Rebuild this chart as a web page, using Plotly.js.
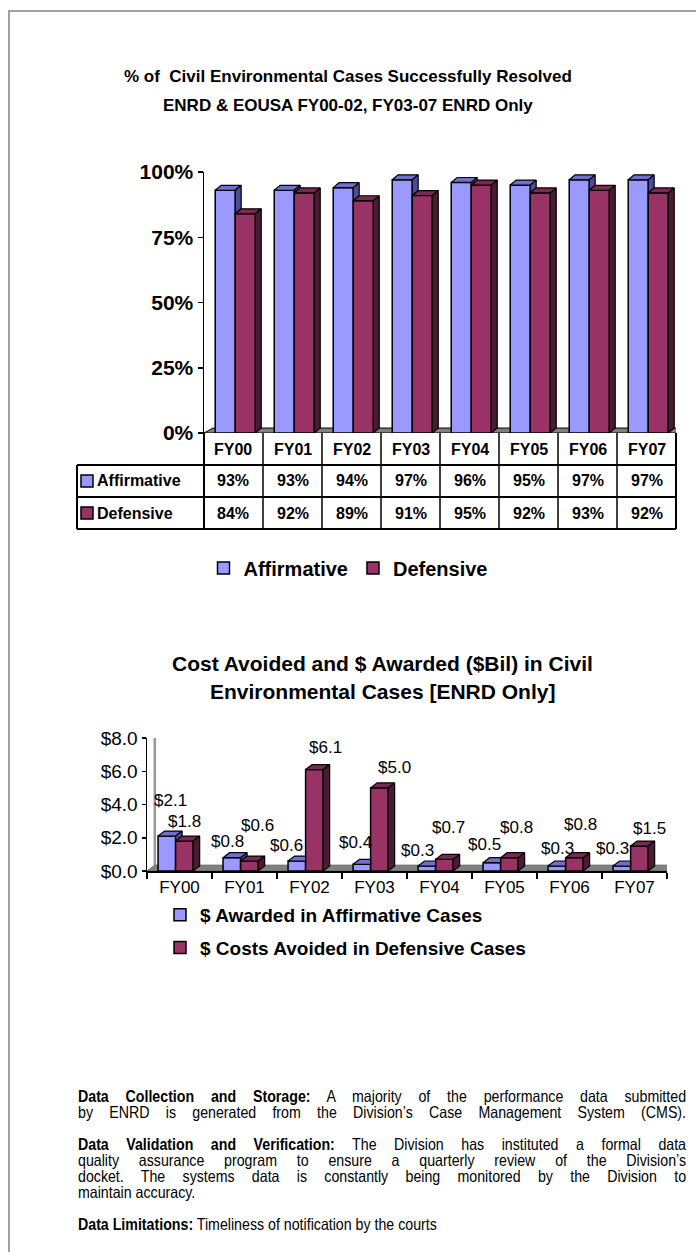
<!DOCTYPE html>
<html><head><meta charset="utf-8">
<script src="https://cdn.plot.ly/plotly-3.0.1.min.js"></script>
<style>
html,body{margin:0;padding:0;background:#fff;}
#page{position:relative;width:696px;height:1252px;overflow:hidden;background:#fff;}
#chart{position:absolute;left:0;top:0;width:696px;height:1252px;}
#frame{position:absolute;left:8px;top:10px;width:700px;height:1260px;border-top:2px solid #a0a0a0;border-left:2px solid #a0a0a0;pointer-events:none;}
.txt{position:absolute;left:78px;width:707px;transform:scaleX(0.86);transform-origin:0 0;font-family:"Liberation Sans",Arial,sans-serif;font-size:16.5px;line-height:16px;color:#000;}
.j{text-align:justify;text-align-last:justify;}
.l{text-align:left;}
</style></head>
<body>
<div id="page">
<div id="chart"></div>
<div id="frame"></div>
<div class="txt" style="top:1088px">
<div class="j"><b>Data Collection and Storage:</b> A majority of the performance data submitted</div>
<div class="j">by ENRD is generated from the Division’s Case Management System (CMS).</div>
<div class="l">&nbsp;</div>
<div class="j"><b>Data Validation and Verification:</b> The Division has instituted a formal data</div>
<div class="j">quality assurance program to ensure a quarterly review of the Division’s</div>
<div class="j">docket. The systems data is constantly being monitored by the Division to</div>
<div class="l">maintain accuracy.</div>
<div class="l">&nbsp;</div>
<div class="l"><b>Data Limitations:</b> Timeliness of notification by the courts</div>
</div>
</div>
<script>
// ---------- data ----------
const categories = ['FY00','FY01','FY02','FY03','FY04','FY05','FY06','FY07'];
const affirmativePct = [93,93,94,97,96,95,97,97];
const defensivePct = [84,92,89,91,95,92,93,92];
const awardedBil = [2.1,0.8,0.6,0.4,0.3,0.5,0.3,0.3];
const avoidedBil = [1.8,0.6,6.1,5.0,0.7,0.8,0.8,1.5];
const pctTicks = [0,25,50,75,100];
const dollarTicks = [0,2,4,6,8];
const seriesNames1 = ['Affirmative','Defensive'];
const seriesNames2 = ['$ Awarded in Affirmative Cases','$ Costs Avoided in Defensive Cases'];

// ---------- helpers ----------
const W = 696, H = 1252;
const px = x => x / W;
const py = y => 1 - y / H;
const FONT = '"Liberation Sans", Arial, sans-serif';
const BLUE = '#9999ff', BLUE_TOP = '#6f6fd0', BLUE_SIDE = '#4c4c99';
const RED = '#993366', RED_TOP = '#7a2952', RED_SIDE = '#4d1a33';
const idx = categories.map((c, i) => i);

function faces(vals, other, off, w, dx, dy, clipToOther) {
  const top = {x: [], y: []}, side = {x: [], y: []};
  vals.forEach((v, i) => {
    const l = i + off, r = l + w;
    const hidden = clipToOther && other[i] >= v;
    const rt = hidden ? r : r + dx;
    top.x.push(l, l + dx, rt, r, l, null);
    top.y.push(v, v + dy, v + dy, v, v, null);
    if (!hidden) {
      const b = clipToOther ? other[i] : 0;
      side.x.push(r, r + dx, r + dx, r, r, null);
      side.y.push(b, b + dy, v + dy, v, b, null);
    }
  });
  return {top, side};
}
function poly(f, color, xa, ya) {
  return {type: 'scatter', mode: 'lines', x: f.x, y: f.y, fill: 'toself', fillcolor: color,
    line: {color: '#000', width: 1.2}, xaxis: xa, yaxis: ya, showlegend: false, hoverinfo: 'skip'};
}

// ---------- geometry (style) ----------
const T = {off1: -0.31, off2: 0.03, w: 0.34, dx: 0.1, dy: 1.9};
const B = {off1: -0.33, off2: -0.06, w: 0.27, dx: 0.1, dy: 0.3};
// data-label nudges in px (Excel-like label placement)
const liftA = [36, 16, 16, 22, 16, 18, 18, 18];
const liftD = [20, 36, 22, 20, 32, 30, 33, 18];
const shiftA = [4, -4, -10, -6, -9, -7, 1, -9];
const shiftD = [0, 8, 11, 15, 4, 7, 6, 10];

const tA = faces(affirmativePct, defensivePct, T.off1, T.w, T.dx, T.dy, true);
const tD = faces(defensivePct, null, T.off2, T.w, T.dx, T.dy, false);
const bA = faces(awardedBil, avoidedBil, B.off1, B.w, B.dx, B.dy, true);
const bD = faces(avoidedBil, null, B.off2, B.w, B.dx, B.dy, false);

const traces = [
  {type: 'bar', name: seriesNames1[0], x: idx, y: affirmativePct, offset: T.off1, width: T.w,
   marker: {color: BLUE, line: {color: '#000', width: 1.5}}, xaxis: 'x', yaxis: 'y', legend: 'legend', hoverinfo: 'y'},
  {type: 'bar', name: seriesNames1[1], x: idx, y: defensivePct, offset: T.off2, width: T.w,
   marker: {color: RED, line: {color: '#000', width: 1.5}}, xaxis: 'x', yaxis: 'y', legend: 'legend', hoverinfo: 'y'},
  poly(tA.top, BLUE_TOP, 'x', 'y'), poly(tA.side, BLUE_SIDE, 'x', 'y'),
  poly(tD.top, RED_TOP, 'x', 'y'), poly(tD.side, RED_SIDE, 'x', 'y'),
  {type: 'bar', name: seriesNames2[0], x: idx, y: awardedBil, offset: B.off1, width: B.w, legendgroup: 'g1',
   marker: {color: BLUE, line: {color: '#000', width: 1.5}}, xaxis: 'x2', yaxis: 'y2', legend: 'legend2', hoverinfo: 'y'},
  {type: 'bar', name: seriesNames2[1], x: idx, y: avoidedBil, offset: B.off2, width: B.w, legendgroup: 'g2',
   marker: {color: RED, line: {color: '#000', width: 1.5}}, xaxis: 'x2', yaxis: 'y2', legend: 'legend2', hoverinfo: 'y'},
  poly(bA.top, BLUE_TOP, 'x2', 'y2'), poly(bA.side, BLUE_SIDE, 'x2', 'y2'),
  poly(bD.top, RED_TOP, 'x2', 'y2'), poly(bD.side, RED_SIDE, 'x2', 'y2')
];

// ---------- shapes ----------
const shapes = [];
shapes.push({type: 'path', xref: 'x', yref: 'y', layer: 'below',
  path: `M -0.5,0 L 7.5,0 L ${7.5 + 0.15},${T.dy} L ${-0.5 + 0.15},${T.dy} Z`,
  fillcolor: '#808080', line: {color: '#000', width: 1}});
const bx = 0.12, by = 0.35;
shapes.push({type: 'path', xref: 'x2', yref: 'y2', layer: 'below',
  path: `M ${-0.5 + bx},${by} L ${-0.5 + bx},${8 + by} L ${7.5 + bx},${8 + by} L ${7.5 + bx},${by}`,
  line: {color: '#999', width: 2.5}});
shapes.push({type: 'path', xref: 'x2', yref: 'y2', layer: 'below',
  path: `M -0.5,0 L 7.5,0 L ${7.5 + bx},${by} L ${-0.5 + bx},${by} Z`,
  fillcolor: '#808080', line: {color: '#666', width: 1}});

// table under the top chart
const tTop = 433, rowH = 32;
const colL = 204, colW = 59, tLeft = 77;
const rowsY = [tTop, tTop + rowH, tTop + 2 * rowH, tTop + 3 * rowH];
const tRight = colL + colW * categories.length;
const line = (x0, y0, x1, y1, w) => ({type: 'line', xref: 'paper', yref: 'paper',
  x0: px(x0), y0: py(y0), x1: px(x1), y1: py(y1), line: {color: '#000', width: w}});
for (let i = 0; i <= categories.length; i++) {
  const x = colL + colW * i;
  shapes.push(line(x, tTop, x, rowsY[3], (i === 0 || i === categories.length) ? 2 : 1.5));
}
shapes.push(line(tLeft, rowsY[1], tRight, rowsY[1], 2));
shapes.push(line(tLeft, rowsY[2], tRight, rowsY[2], 2));
shapes.push(line(tLeft, rowsY[3], tRight, rowsY[3], 2));
shapes.push(line(tLeft, rowsY[1], tLeft, rowsY[3], 2));
[[BLUE, 1], [RED, 2]].forEach(([c, r]) => {
  const cy = rowsY[r] + rowH / 2;
  shapes.push({type: 'rect', xref: 'paper', yref: 'paper', x0: px(81), x1: px(93), y0: py(cy + 6), y1: py(cy - 6),
    fillcolor: c, line: {color: '#000', width: 1.5}});
});

// ---------- annotations ----------
const ann = [];
const bold = size => ({family: FONT, size: size, color: '#000', weight: 'bold'});
const title = (x, y, text, size) => ({xref: 'paper', yref: 'paper', x: px(x), y: py(y), text: text,
  showarrow: false, font: bold(size), xanchor: 'center', yanchor: 'middle'});
ann.push(title(348, 76, '% of  Civil Environmental Cases Successfully Resolved', 17));
ann.push(title(348, 105, 'ENRD &amp; EOUSA FY00-02, FY03-07 ENRD Only', 17));
ann.push(title(382, 663, 'Cost Avoided and $ Awarded ($Bil) in Civil', 21));
ann.push(title(382, 691, 'Environmental Cases [ENRD Only]', 21));
categories.forEach((c, i) => {
  ann.push({xref: 'x', yref: 'paper', x: i, y: py(rowsY[0] + rowH / 2), text: c, showarrow: false, font: bold(16)});
  ann.push({xref: 'x', yref: 'paper', x: i, y: py(rowsY[1] + rowH / 2), text: affirmativePct[i] + '%', showarrow: false, font: bold(16)});
  ann.push({xref: 'x', yref: 'paper', x: i, y: py(rowsY[2] + rowH / 2), text: defensivePct[i] + '%', showarrow: false, font: bold(16)});
});
seriesNames1.forEach((n, r) => {
  ann.push({xref: 'paper', yref: 'paper', x: px(95), y: py(rowsY[r + 1] + rowH / 2), text: n, xanchor: 'left',
    showarrow: false, font: bold(16)});
});
awardedBil.forEach((v, i) => {
  ann.push({xref: 'x2', yref: 'y2', x: i + B.off1 + B.w / 2, y: v, text: '$' + v.toFixed(1), showarrow: false,
    yanchor: 'middle', yshift: liftA[i], xshift: shiftA[i], font: {family: FONT, size: 17, color: '#000'}});
});
avoidedBil.forEach((v, i) => {
  ann.push({xref: 'x2', yref: 'y2', x: i + B.off2 + B.w / 2, y: v, text: '$' + v.toFixed(1), showarrow: false,
    yanchor: 'middle', yshift: liftD[i], xshift: shiftD[i], font: {family: FONT, size: 17, color: '#000'}});
});

const layout = {
  width: W, height: H, margin: {l: 0, r: 0, t: 0, b: 0},
  paper_bgcolor: '#fff', plot_bgcolor: 'rgba(0,0,0,0)',
  barmode: 'overlay', showlegend: true, font: {family: FONT, color: '#000'},
  xaxis: {domain: [px(204), px(676)], range: [-0.5, 7.5], showticklabels: false, showgrid: false,
    zeroline: false, showline: false, ticks: '', fixedrange: true},
  yaxis: {domain: [py(433), py(172)], range: [0, 100], tickvals: pctTicks, ticktext: pctTicks.map(v => v + '%'),
    showgrid: false, zeroline: false, showline: true, linecolor: '#000', linewidth: 1.5,
    ticks: 'outside', ticklen: 5, tickwidth: 1.5, tickcolor: '#000',
    tickfont: {family: FONT, size: 21, color: '#000', weight: 'bold'}, fixedrange: true},
  xaxis2: {domain: [px(147), px(667)], range: [-0.5, 7.5], anchor: 'y2', tickvals: idx, ticktext: categories,
    showgrid: false, zeroline: false, showline: true, linecolor: '#000', linewidth: 1.5, ticks: '',
    minor: {tickvals: categories.map((c, i) => i - 0.5).concat([categories.length - 0.5]), ticks: 'outside', ticklen: 6,
      tickwidth: 1.5, tickcolor: '#000', showgrid: false},
    tickfont: {family: FONT, size: 17, color: '#000'}, fixedrange: true},
  yaxis2: {domain: [py(871), py(738)], range: [0, 8], anchor: 'x2', tickvals: dollarTicks,
    ticktext: dollarTicks.map(v => '$' + v.toFixed(1)), showgrid: false, zeroline: false,
    showline: true, linecolor: '#000', linewidth: 1.5, ticks: 'outside', ticklen: 4, tickwidth: 1.5, tickcolor: '#000',
    tickfont: {family: FONT, size: 19, color: '#000'}, fixedrange: true},
  legend: {orientation: 'h', x: 0.5, xanchor: 'center', y: py(568), yanchor: 'middle',
    font: {family: FONT, size: 20, color: '#000', weight: 'bold'}, bgcolor: 'rgba(0,0,0,0)', itemwidth: 30},
  legend2: {orientation: 'v', x: px(160), xanchor: 'left', y: py(896), yanchor: 'top', tracegroupgap: 5,
    font: {family: FONT, size: 19, color: '#000', weight: 'bold'}, bgcolor: 'rgba(0,0,0,0)', itemwidth: 30},
  shapes: shapes, annotations: ann
};

Plotly.newPlot('chart', traces, layout, {staticPlot: true, displayModeBar: false});
</script>
</body></html>
